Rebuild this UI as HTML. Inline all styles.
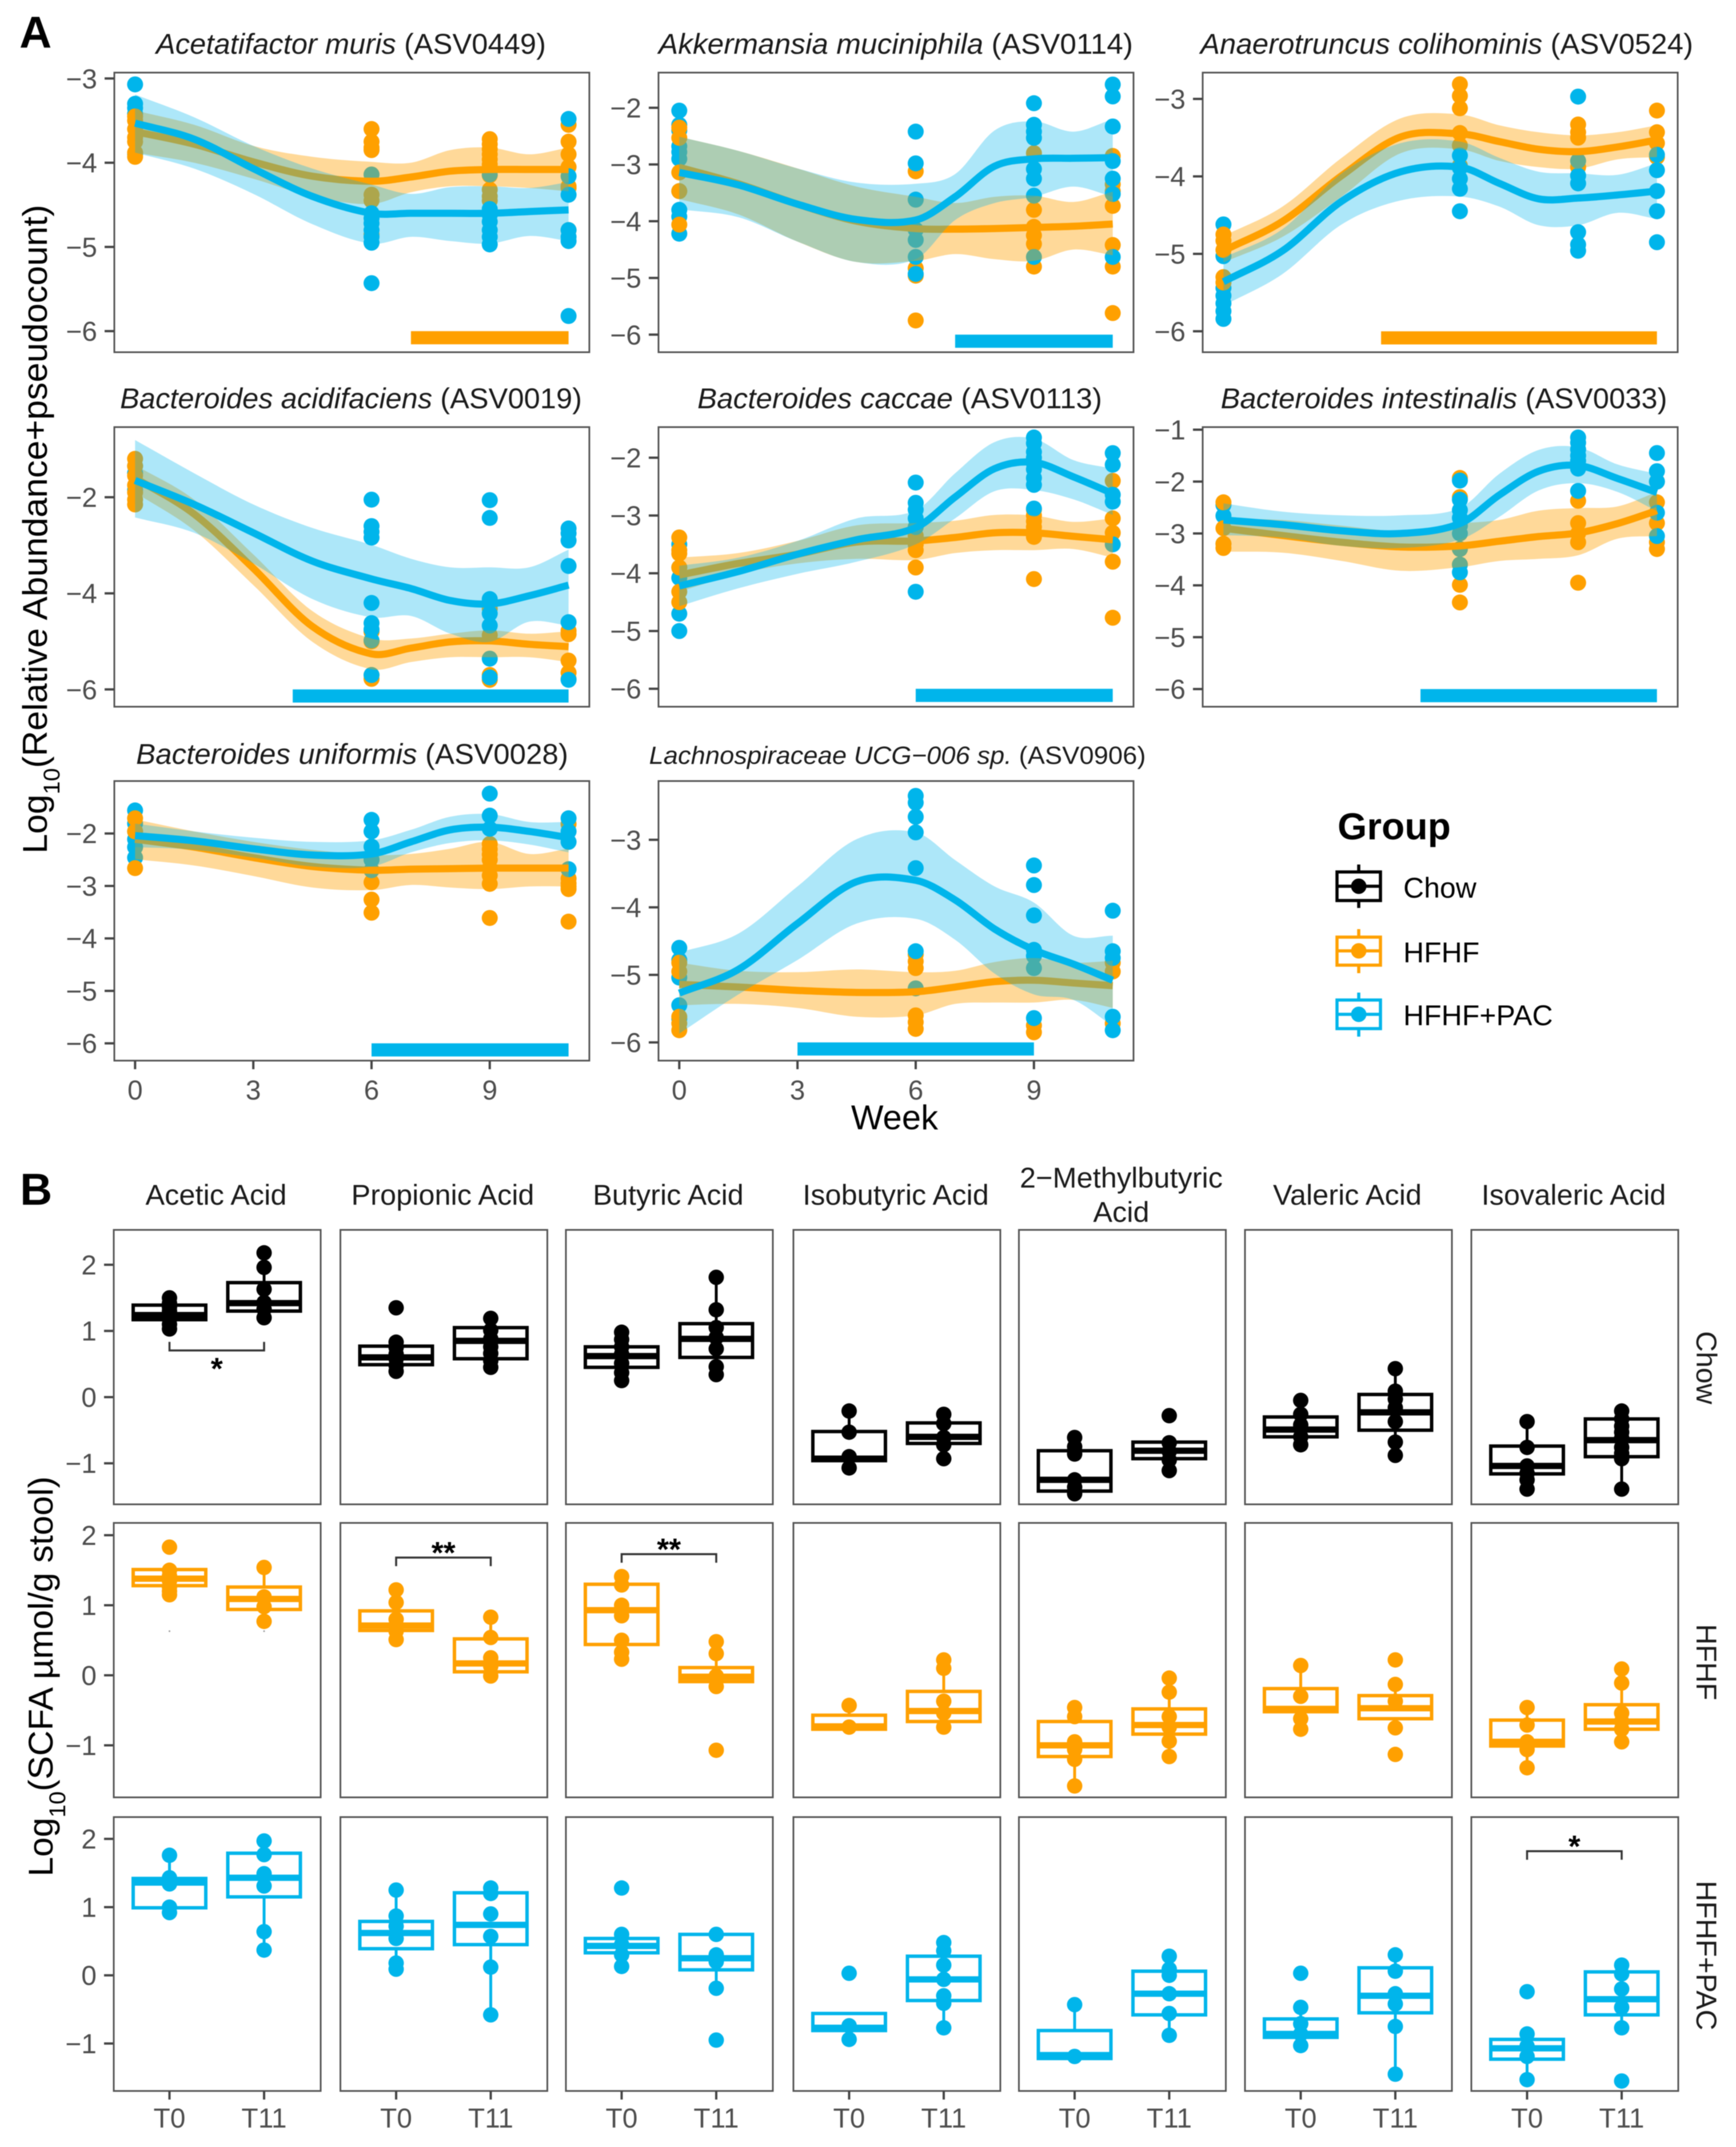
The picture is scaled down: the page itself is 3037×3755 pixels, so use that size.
<!DOCTYPE html>
<html lang="en">
<head>
<meta charset="utf-8">
<title>Taxa abundance smooths and SCFA boxplots</title>
<style>
html,body{margin:0;padding:0;background:#fff;}
svg{display:block;font-family:"Liberation Sans",sans-serif;filter:blur(0.9px);}
</style>
</head>
<body>
<svg id="chart" xmlns="http://www.w3.org/2000/svg" width="3037" height="3755" viewBox="0 0 3037 3755">
<rect x="0" y="0" width="3037" height="3755" fill="#fff"/>
<text x="34" y="83" font-size="78" font-weight="bold" fill="#000">A</text>
<text x="35" y="2107" font-size="78" font-weight="bold" fill="#000">B</text>
<text transform="translate(82,1493) rotate(-90)" font-size="60" fill="#000" textLength="1135" lengthAdjust="spacingAndGlyphs">Log<tspan font-size="40" dy="22">10</tspan><tspan dy="-22">(Relative Abundance+pseudocount)</tspan></text>
<text transform="translate(92,3282) rotate(-90)" font-size="60" fill="#000" textLength="700" lengthAdjust="spacingAndGlyphs">Log<tspan font-size="40" dy="22">10</tspan><tspan dy="-22">(SCFA µmol/g stool)</tspan></text>
<text x="1565" y="1975" font-size="60" fill="#000" text-anchor="middle">Week</text>
<g>
<text x="2340" y="1468" font-size="66" font-weight="bold" fill="#000">Group</text>
<g stroke="#000" stroke-width="5.5" fill="none">
<line x1="2377" x2="2377" y1="1512" y2="1588"/><rect x="2339" y="1525" width="76" height="50" fill="#fff"/><line x1="2339" x2="2415" y1="1550" y2="1550"/><circle cx="2377" cy="1550" r="13.5" fill="#000" stroke="none"/>
<text x="2455" y="1570" font-size="50" fill="#000" stroke="none">Chow</text>
</g>
<g stroke="#FFA000" stroke-width="5.5" fill="none">
<line x1="2377" x2="2377" y1="1625" y2="1702"/><rect x="2339" y="1639" width="76" height="49" fill="#fff"/><line x1="2339" x2="2415" y1="1663" y2="1663"/><circle cx="2377" cy="1663" r="13.5" fill="#FFA000" stroke="none"/>
<text x="2455" y="1683" font-size="50" fill="#000" stroke="none">HFHF</text>
</g>
<g stroke="#00B5EB" stroke-width="5.5" fill="none">
<line x1="2377" x2="2377" y1="1736" y2="1813"/><rect x="2339" y="1749" width="76" height="50" fill="#fff"/><line x1="2339" x2="2415" y1="1774" y2="1774"/><circle cx="2377" cy="1774" r="13.5" fill="#00B5EB" stroke="none"/>
<text x="2455" y="1793" font-size="50" fill="#000" stroke="none">HFHF+PAC</text>
</g>
</g>
</svg>
<script>
/* ---------- Panel A data: weeks ---------- */
const smoothWeeks = [0,1.5,3,4.5,6,7,8,9,10,11];
const pointWeeks = [0,6,9,11];
const weekTicks = [0,3,6,9];

/* Acetatifactor muris */
const murisTitle = ['Acetatifactor muris','(ASV0449)'];
const murisTicks = [-3,-4,-5,-6];
const murisHfhfMean = [-3.63,-3.78,-3.99,-4.16,-4.22,-4.17,-4.1,-4.08,-4.08,-4.08];
const murisHfhfHi = [-3.38,-3.55,-3.8,-3.93,-3.99,-4.0,-3.85,-3.82,-3.9,-3.82];
const murisHfhfLo = [-3.88,-4.0,-4.19,-4.4,-4.49,-4.35,-4.28,-4.28,-4.3,-4.34];
const murisPacMean = [-3.53,-3.72,-4.07,-4.4,-4.6,-4.6,-4.6,-4.6,-4.58,-4.56];
const murisPacHi = [-3.19,-3.46,-3.8,-4.07,-4.26,-4.37,-4.29,-4.28,-4.3,-4.23];
const murisPacLo = [-3.88,-4.07,-4.37,-4.73,-4.96,-4.88,-4.93,-4.96,-4.87,-4.93];
const murisHfhfPoints = [[-3.45,-3.5,-3.6,-3.7,-3.75,-3.88,-3.93],[-3.6,-3.75,-3.82,-3.85,-4.14,-4.38,-4.45,-4.85],[-3.72,-3.78,-3.84,-3.9,-3.96,-4.02,-4.08,-4.15,-4.32,-4.4,-4.45],[-3.55,-3.75,-3.9,-4.05,-4.28,-4.3,-4.8]];
const murisPacPoints = [[-3.07,-3.3,-3.35,-3.42,-3.9],[-4.14,-4.6,-4.66,-4.72,-4.8,-4.88,-4.95,-5.43],[-4.14,-4.55,-4.62,-4.7,-4.8,-4.88,-4.97],[-3.48,-4.16,-4.38,-4.8,-4.88,-4.93,-5.82]];

/* Akkermansia muciniphila */
const akkerTitle = ['Akkermansia muciniphila','(ASV0114)'];
const akkerTicks = [-2,-3,-4,-5,-6];
const akkerHfhfMean = [-3.05,-3.34,-3.7,-4.0,-4.13,-4.14,-4.13,-4.11,-4.09,-4.05];
const akkerHfhfHi = [-2.51,-2.76,-3.07,-3.39,-3.57,-3.68,-3.57,-3.55,-3.66,-3.48];
const akkerHfhfLo = [-3.61,-3.88,-4.36,-4.72,-4.7,-4.58,-4.67,-4.7,-4.5,-4.6];
const akkerPacMean = [-3.14,-3.36,-3.7,-3.97,-3.98,-3.57,-3.03,-2.9,-2.89,-2.88];
const akkerPacHi = [-2.51,-2.76,-3.07,-3.32,-3.34,-3.17,-2.4,-2.24,-2.42,-2.2];
const akkerPacLo = [-3.79,-3.93,-4.36,-4.72,-4.67,-3.98,-3.68,-3.57,-3.39,-3.57];
const akkerHfhfPoints = [[-2.35,-2.53,-3.14,-3.47,-4.06],[-3.12,-3.62,-4.83,-4.96,-5.75],[-2.8,-3.8,-4.1,-4.25,-4.4,-4.8],[-2.85,-3.35,-3.47,-3.73,-4.42,-4.8,-5.62]];
const akkerPacPoints = [[-2.05,-2.3,-2.4,-2.68,-2.78,-2.9,-3.47,-3.8,-3.92,-4.22],[-2.42,-2.98,-3.62,-4.15,-4.33,-4.63,-4.93],[-1.92,-2.3,-2.42,-2.53,-3.08,-3.25,-3.55,-4.63],[-1.59,-1.8,-2.33,-2.94,-3.25,-3.52,-4.63]];

/* Anaerotruncus colihominis */
const anaeroTitle = ['Anaerotruncus colihominis','(ASV0524)'];
const anaeroTicks = [-3,-4,-5,-6];
const anaeroHfhfMean = [-4.96,-4.58,-3.99,-3.49,-3.45,-3.55,-3.65,-3.68,-3.62,-3.53];
const anaeroHfhfHi = [-4.77,-4.39,-3.76,-3.25,-3.2,-3.34,-3.43,-3.47,-3.43,-3.34];
const anaeroHfhfLo = [-5.11,-4.78,-4.26,-3.7,-3.65,-3.8,-3.88,-3.9,-3.78,-3.75];
const anaeroPacMean = [-5.36,-4.96,-4.32,-3.94,-3.88,-4.09,-4.29,-4.28,-4.24,-4.19];
const anaeroPacHi = [-5.05,-4.68,-3.96,-3.57,-3.55,-3.76,-3.94,-3.96,-3.98,-3.83];
const anaeroPacLo = [-5.67,-5.26,-4.62,-4.31,-4.26,-4.39,-4.63,-4.63,-4.47,-4.55];
const anaeroHfhfPoints = [[-4.75,-4.83,-4.95,-5.3,-5.37],[-2.81,-2.96,-3.12,-3.44,-3.6,-3.86],[-3.33,-3.43,-3.5,-3.88],[-3.15,-3.43,-3.57,-3.75]];
const anaeroPacPoints = [[-4.62,-5.03,-5.44,-5.54,-5.64,-5.74,-5.84],[-3.73,-3.89,-4.03,-4.16,-4.45],[-2.97,-3.8,-3.99,-4.09,-4.72,-4.88,-4.96],[-3.72,-3.92,-4.19,-4.45,-4.85]];

/* Bacteroides acidifaciens */
const acidifTitle = ['Bacteroides acidifaciens','(ASV0019)'];
const acidifTicks = [-2,-4,-6];
const acidifHfhfMean = [-1.6,-2.35,-3.48,-4.69,-5.26,-5.14,-5.01,-4.99,-5.06,-5.11];
const acidifHfhfHi = [-1.33,-2.05,-3.19,-4.37,-4.94,-4.94,-4.84,-4.77,-4.84,-4.79];
const acidifHfhfLo = [-1.9,-2.69,-3.83,-5.01,-5.58,-5.43,-5.33,-5.33,-5.33,-5.43];
const acidifPacMean = [-1.65,-2.15,-2.74,-3.33,-3.7,-3.9,-4.15,-4.22,-4.05,-3.83];
const acidifPacHi = [-0.81,-1.5,-2.15,-2.64,-2.99,-3.28,-3.46,-3.46,-3.46,-3.09];
const acidifPacLo = [-2.42,-2.74,-3.38,-4.12,-4.5,-4.47,-4.84,-5.01,-4.59,-4.67];
const acidifHfhfPoints = [[-1.2,-1.35,-1.55,-1.75,-1.9,-2.05,-2.15],[-4.8,-5.0,-5.7,-5.78],[-4.32,-4.87,-5.7,-5.8],[-4.78,-4.85,-5.4,-5.65,-5.78]];
const acidifPacPoints = [[-1.35,-1.5,-1.85],[-2.05,-2.6,-2.72,-2.84,-4.2,-4.62,-4.75,-4.98,-5.7],[-2.06,-2.43,-4.12,-4.42,-4.67,-5.36,-5.75],[-2.65,-2.75,-2.9,-3.43,-4.6,-5.8]];

/* Bacteroides caccae */
const caccaeTitle = ['Bacteroides caccae','(ASV0113)'];
const caccaeTicks = [-2,-3,-4,-5,-6];
const caccaeHfhfMean = [-4.03,-3.83,-3.67,-3.46,-3.44,-3.38,-3.3,-3.3,-3.36,-3.42];
const caccaeHfhfHi = [-3.73,-3.65,-3.44,-3.17,-3.13,-3.09,-2.99,-3.0,-3.11,-3.05];
const caccaeHfhfLo = [-4.32,-4.01,-3.83,-3.75,-3.77,-3.65,-3.6,-3.6,-3.58,-3.73];
const caccaePacMean = [-4.22,-3.97,-3.67,-3.42,-3.21,-2.68,-2.19,-2.08,-2.33,-2.62];
const caccaePacHi = [-3.87,-3.73,-3.44,-3.05,-2.91,-2.27,-1.73,-1.67,-2.04,-2.19];
const caccaePacLo = [-4.57,-4.26,-4.01,-3.8,-3.5,-3.05,-2.58,-2.56,-2.72,-2.99];
const caccaeHfhfPoints = [[-3.38,-3.6,-3.66,-3.9,-4.32,-4.5],[-3.35,-3.5,-3.6,-3.9],[-2.9,-3.0,-3.1,-3.2,-3.3,-3.37,-4.1],[-2.4,-3.05,-3.3,-3.8,-4.77]];
const caccaePacPoints = [[-3.5,-3.9,-4.08,-4.7,-5.0],[-2.43,-2.78,-2.9,-3.05,-3.2,-4.32],[-1.65,-1.75,-1.9,-2.0,-2.1,-2.2,-2.35,-2.47,-2.88],[-1.92,-2.12,-2.64,-2.76,-3.5]];

/* Bacteroides intestinalis */
const intestTitle = ['Bacteroides intestinalis','(ASV0033)'];
const intestTicks = [-1,-2,-3,-4,-5,-6];
const intestHfhfMean = [-2.9,-3.04,-3.17,-3.26,-3.24,-3.15,-3.06,-2.99,-2.81,-2.56];
const intestHfhfHi = [-2.72,-2.74,-2.85,-2.95,-2.81,-2.74,-2.56,-2.51,-2.48,-2.2];
const intestHfhfLo = [-3.35,-3.37,-3.53,-3.72,-3.65,-3.53,-3.49,-3.42,-3.1,-3.05];
const intestPacMean = [-2.74,-2.83,-2.95,-3.0,-2.81,-2.26,-1.8,-1.69,-1.94,-2.21];
const intestPacHi = [-2.42,-2.58,-2.65,-2.65,-2.51,-1.85,-1.39,-1.34,-1.67,-1.85];
const intestPacLo = [-3.03,-3.08,-3.24,-3.28,-3.12,-2.68,-2.17,-2.03,-2.2,-2.57];
const intestHfhfPoints = [[-2.4,-2.9,-3.2,-3.28],[-1.93,-2.3,-3.3,-3.6,-3.99,-4.33],[-2.37,-2.8,-3.0,-3.17,-3.95],[-2.0,-2.4,-2.8,-3.17,-3.3]];
const intestPacPoints = [[-2.45,-2.66,-3.2],[-1.98,-2.35,-2.55,-2.7,-2.85,-3.0,-3.3,-3.6,-3.75],[-1.15,-1.25,-1.38,-1.5,-1.6,-1.75,-2.18],[-1.45,-1.8,-2.0,-2.6,-3.05]];

/* Bacteroides uniformis */
const unifTitle = ['Bacteroides uniformis','(ASV0028)'];
const unifTicks = [-2,-3,-4,-5,-6];
const unifHfhfMean = [-2.11,-2.26,-2.46,-2.63,-2.7,-2.68,-2.67,-2.66,-2.66,-2.66];
const unifHfhfHi = [-1.73,-1.96,-2.16,-2.31,-2.41,-2.39,-2.29,-2.16,-2.39,-2.29];
const unifHfhfLo = [-2.49,-2.61,-2.81,-3.03,-3.08,-2.98,-3.03,-3.06,-3.01,-3.01];
const unifPacMean = [-2.04,-2.14,-2.29,-2.41,-2.39,-2.16,-1.93,-1.88,-1.96,-2.08];
const unifPacHi = [-1.81,-1.96,-2.08,-2.16,-2.13,-1.93,-1.68,-1.63,-1.78,-1.78];
const unifPacLo = [-2.26,-2.31,-2.46,-2.63,-2.63,-2.36,-2.18,-2.13,-2.21,-2.36];
const unifHfhfPoints = [[-1.71,-1.96,-2.66],[-2.25,-2.5,-2.7,-2.93,-3.26,-3.51],[-2.2,-2.3,-2.4,-2.5,-2.66,-2.8,-2.96,-3.61],[-1.82,-2.86,-2.95,-3.01,-3.06,-3.68]];
const unifPacPoints = [[-1.56,-1.81,-1.96,-2.11,-2.26,-2.46],[-1.74,-1.96,-2.25,-2.5,-2.7],[-1.24,-1.66,-1.91],[-1.71,-1.96,-2.16,-2.68]];

/* Lachnospiraceae UCG-006 sp. */
const lachnoTitle = ['Lachnospiraceae UCG\u2212006 sp.','(ASV0906)'];
const lachnoTicks = [-3,-4,-5,-6];
const lachnoHfhfMean = [-5.14,-5.18,-5.23,-5.26,-5.25,-5.18,-5.1,-5.08,-5.12,-5.16];
const lachnoHfhfHi = [-4.82,-4.94,-4.96,-4.92,-4.96,-4.94,-4.81,-4.75,-4.82,-4.79];
const lachnoHfhfLo = [-5.45,-5.43,-5.49,-5.62,-5.6,-5.43,-5.41,-5.41,-5.37,-5.49];
const lachnoPacMean = [-5.27,-4.92,-4.24,-3.62,-3.6,-3.89,-4.32,-4.63,-4.84,-5.08];
const lachnoPacHi = [-4.67,-4.39,-3.69,-2.99,-2.89,-3.3,-3.69,-3.93,-4.42,-4.42];
const lachnoPacLo = [-5.87,-5.29,-4.78,-4.24,-4.17,-4.48,-4.98,-5.29,-5.37,-5.76];
const lachnoHfhfPoints = [[-4.82,-4.95,-5.62,-5.72,-5.82],[-4.7,-4.8,-4.9,-5.6,-5.7,-5.8],[-5.75,-5.85],[-4.82,-4.95,-5.72]];
const lachnoPacPoints = [[-4.6,-4.78,-5.04,-5.45,-5.65],[-2.35,-2.45,-2.66,-2.89,-3.42,-4.65,-5.2],[-3.38,-3.67,-4.12,-4.63,-4.72,-4.9,-5.64],[-4.05,-4.65,-4.75,-5.62,-5.82]];

/* Significance bars in panel A: [first week, last week] */
const murisSigWeeks = [7,11];
const akkerSigWeeks = [7,11];
const anaeroSigWeeks = [4,11];
const acidifSigWeeks = [4,11];
const caccaeSigWeeks = [6,11];
const intestSigWeeks = [5,11];
const unifSigWeeks = [6,11];
const lachnoSigWeeks = [3,9];

/* ---------- Panel B data ---------- */
const acidNames = ['Acetic Acid','Propionic Acid','Butyric Acid','Isobutyric Acid','2\u2212Methylbutyric|Acid','Valeric Acid','Isovaleric Acid'];
const timeLabels = ['T0','T11'];
const groupNames = ['Chow','HFHF','HFHF+PAC'];
const scfaTicks = [2,1,0,-1];
/* each: q1, median, q3, whisker low, whisker high; order acid T0, acid T11 */
const chowBoxes = [[1.17,1.24,1.39,1.03,1.5],[1.3,1.42,1.73,1.2,1.96],[0.49,0.6,0.77,0.39,0.83],[0.58,0.85,1.05,0.45,1.19],[0.45,0.62,0.76,0.25,0.98],[0.6,0.88,1.11,0.34,1.81],[-0.96,-0.93,-0.52,-1.07,-0.21],[-0.7,-0.6,-0.39,-0.93,-0.26],[-1.42,-1.25,-0.81,-1.46,-0.61],[-0.93,-0.81,-0.68,-1.11,-0.68],[-0.6,-0.49,-0.3,-0.72,-0.05],[-0.5,-0.23,0.04,-0.88,0.43],[-1.16,-1.04,-0.74,-1.39,-0.37],[-0.9,-0.65,-0.33,-1.39,-0.21]];
const hfhfBoxes = [[1.28,1.38,1.51,1.15,1.5],[0.94,1.09,1.26,0.77,1.54],[0.64,0.71,0.92,0.51,1.22],[0.05,0.17,0.52,-0.01,0.83],[0.44,0.93,1.3,0.23,1.41],[-0.09,-0.02,0.11,-0.16,0.48],[-0.77,-0.73,-0.57,-0.77,-0.43],[-0.66,-0.51,-0.23,-0.74,0.22],[-1.16,-1.0,-0.66,-1.58,-0.46],[-0.84,-0.71,-0.48,-1.16,-0.04],[-0.52,-0.48,-0.19,-0.77,0.14],[-0.62,-0.47,-0.29,-0.75,-0.13],[-1.01,-0.95,-0.64,-1.32,-0.46],[-0.77,-0.66,-0.42,-0.95,0.09]];
const pacBoxes = [[0.99,1.36,1.42,0.92,1.76],[1.15,1.43,1.79,0.37,1.97],[0.39,0.62,0.79,0.09,1.25],[0.45,0.74,1.21,-0.58,1.28],[0.33,0.43,0.54,0.13,0.6],[0.08,0.25,0.6,-0.19,0.6],[-0.81,-0.77,-0.56,-0.94,-0.56],[-0.37,-0.06,0.28,-0.77,0.48],[-1.22,-1.17,-0.81,-1.22,-0.43],[-0.58,-0.27,0.06,-0.88,0.28],[-0.91,-0.86,-0.64,-1.03,-0.47],[-0.55,-0.3,0.11,-1.45,0.3],[-1.23,-1.07,-0.94,-1.53,-0.86],[-0.58,-0.35,0.05,-0.77,0.15]];
const chowPoints = [[1.5,1.42,1.36,1.3,1.25,1.18,1.1,1.03],[2.18,1.96,1.63,1.43,1.33,1.2],[1.35,0.83,0.75,0.65,0.58,0.48,0.39],[1.19,1.01,0.88,0.76,0.66,0.55,0.45],[0.98,0.87,0.76,0.65,0.51,0.37,0.25],[1.81,1.32,1.05,0.9,0.73,0.46,0.34],[-0.21,-0.53,-0.9,-1.07],[-0.26,-0.4,-0.61,-0.72,-0.93],[-0.61,-0.75,-0.86,-1.25,-1.36,-1.46],[-0.28,-0.69,-0.82,-0.95,-1.11],[-0.05,-0.26,-0.42,-0.6,-0.72],[0.43,0.09,-0.03,-0.16,-0.37,-0.68,-0.88],[-0.37,-0.76,-1.04,-1.15,-1.25,-1.39],[-0.21,-0.33,-0.44,-0.53,-0.62,-0.76,-0.85,-0.93,-1.39]];
const hfhfPoints = [[1.83,1.5,1.42,1.35,1.26,1.2,1.15],[1.54,1.12,0.98,0.77],[1.22,1.04,0.8,0.63,0.51],[0.83,0.54,0.25,0.13,-0.01],[1.41,1.29,1.0,0.85,0.5,0.33,0.23],[0.48,0.31,-0.01,-0.16,-1.07],[-0.43,-0.74],[0.22,0.1,-0.37,-0.54,-0.74],[-0.46,-0.59,-0.95,-1.06,-1.2,-1.58],[-0.04,-0.24,-0.59,-0.74,-0.94,-1.16],[0.14,-0.3,-0.62,-0.77],[0.22,-0.13,-0.37,-0.75,-1.13],[-0.46,-0.71,-0.95,-1.06,-1.32],[0.09,-0.11,-0.54,-0.66,-0.77,-0.95]];
const pacPoints = [[1.76,1.43,1.34,1.0,0.92],[1.97,1.77,1.49,1.31,0.64,0.37],[1.25,0.87,0.72,0.54,0.18,0.09],[1.28,1.2,0.9,0.57,0.12,-0.58],[1.28,0.6,0.45,0.3,0.13],[0.6,0.3,0.2,-0.19,-0.95],[0.03,-0.74,-0.94],[0.48,0.36,0.15,-0.06,-0.3,-0.41,-0.77],[-0.43,-1.19],[0.28,0.09,0.0,-0.27,-0.56,-0.88],[0.03,-0.47,-0.71,-0.86,-1.03],[0.3,0.06,-0.27,-0.42,-0.75,-1.45],[-0.24,-0.86,-1.04,-1.19,-1.53],[0.15,0.02,-0.2,-0.47,-0.77,-1.55]];
/* faint specks below the HFHF acetic boxes */
const hfhfAceticSpecks = [0.63,0.63];

/* ---------- Rendering ---------- */
const SVGNS = 'http://www.w3.org/2000/svg';
const svg = document.getElementById('chart');
const ORANGE = '#FFA000';
const BLUE = '#00B5EB';
const TICK_COLOR = '#444';
const LABEL_COLOR = '#4d4d4d';
const BORDER = '#555';

function mk(tag, attrs, parent) {
  const el = document.createElementNS(SVGNS, tag);
  for (const k in attrs) el.setAttribute(k, attrs[k]);
  (parent || svg).appendChild(el);
  return el;
}
/* cubic Hermite through the points, tangents respect the uneven node spacing */
function curve(pts) {
  function slope(i) {
    const a = pts[Math.max(i - 1, 0)], b = pts[Math.min(i + 1, pts.length - 1)];
    return (b[1] - a[1]) / (b[0] - a[0]);
  }
  let d = '';
  for (let i = 0; i < pts.length - 1; i++) {
    const p1 = pts[i], p2 = pts[i + 1], h = (p2[0] - p1[0]) / 3;
    d += 'C' + (p1[0] + h).toFixed(1) + ' ' + (p1[1] + slope(i) * h).toFixed(1) + ' '
      + (p2[0] - h).toFixed(1) + ' ' + (p2[1] - slope(i + 1) * h).toFixed(1) + ' '
      + p2[0].toFixed(1) + ' ' + p2[1].toFixed(1);
  }
  return d;
}
function linear(d0, d1, r0, r1) {
  return function (v) { return r0 + (v - d0) * (r1 - r0) / (d1 - d0); };
}

const panelLayoutA = [
  {key:'muris', left:200, top:127, yMax:-2.93, yMin:-6.25, titleX:614, titleY:94, titleW:682, fs:50},
  {key:'akker', left:1152, top:127, yMax:-1.38, yMin:-6.31, titleX:1567, titleY:94, titleW:830, fs:50},
  {key:'anaero', left:2104, top:127, yMax:-2.66, yMin:-6.27, titleX:2531, titleY:94, titleW:862, fs:50},
  {key:'acidif', left:200, top:747, yMax:-0.54, yMin:-6.36, titleX:614, titleY:714, titleW:808, fs:50},
  {key:'caccae', left:1152, top:747, yMax:-1.47, yMin:-6.31, titleX:1574, titleY:714, titleW:708, fs:50},
  {key:'intest', left:2104, top:747, yMax:-0.95, yMin:-6.34, titleX:2526, titleY:714, titleW:781, fs:50},
  {key:'unif', left:200, top:1366, yMax:-1.0, yMin:-6.33, titleX:616, titleY:1336, titleW:756, fs:50},
  {key:'lachno', left:1152, top:1366, yMax:-2.13, yMin:-6.27, titleX:1570, titleY:1336, titleW:869, fs:44}
];
const panelDataA = {
  muris:{title:murisTitle,ticks:murisTicks,sig:murisSigWeeks,sigColor:ORANGE,hm:murisHfhfMean,hh:murisHfhfHi,hl:murisHfhfLo,pm:murisPacMean,ph:murisPacHi,pl:murisPacLo,hp:murisHfhfPoints,pp:murisPacPoints},
  akker:{title:akkerTitle,ticks:akkerTicks,sig:akkerSigWeeks,sigColor:BLUE,hm:akkerHfhfMean,hh:akkerHfhfHi,hl:akkerHfhfLo,pm:akkerPacMean,ph:akkerPacHi,pl:akkerPacLo,hp:akkerHfhfPoints,pp:akkerPacPoints},
  anaero:{title:anaeroTitle,ticks:anaeroTicks,sig:anaeroSigWeeks,sigColor:ORANGE,hm:anaeroHfhfMean,hh:anaeroHfhfHi,hl:anaeroHfhfLo,pm:anaeroPacMean,ph:anaeroPacHi,pl:anaeroPacLo,hp:anaeroHfhfPoints,pp:anaeroPacPoints},
  acidif:{title:acidifTitle,ticks:acidifTicks,sig:acidifSigWeeks,sigColor:BLUE,hm:acidifHfhfMean,hh:acidifHfhfHi,hl:acidifHfhfLo,pm:acidifPacMean,ph:acidifPacHi,pl:acidifPacLo,hp:acidifHfhfPoints,pp:acidifPacPoints},
  caccae:{title:caccaeTitle,ticks:caccaeTicks,sig:caccaeSigWeeks,sigColor:BLUE,hm:caccaeHfhfMean,hh:caccaeHfhfHi,hl:caccaeHfhfLo,pm:caccaePacMean,ph:caccaePacHi,pl:caccaePacLo,hp:caccaeHfhfPoints,pp:caccaePacPoints},
  intest:{title:intestTitle,ticks:intestTicks,sig:intestSigWeeks,sigColor:BLUE,hm:intestHfhfMean,hh:intestHfhfHi,hl:intestHfhfLo,pm:intestPacMean,ph:intestPacHi,pl:intestPacLo,hp:intestHfhfPoints,pp:intestPacPoints},
  unif:{title:unifTitle,ticks:unifTicks,sig:unifSigWeeks,sigColor:BLUE,hm:unifHfhfMean,hh:unifHfhfHi,hl:unifHfhfLo,pm:unifPacMean,ph:unifPacHi,pl:unifPacLo,hp:unifHfhfPoints,pp:unifPacPoints},
  lachno:{title:lachnoTitle,ticks:lachnoTicks,sig:lachnoSigWeeks,sigColor:BLUE,hm:lachnoHfhfMean,hh:lachnoHfhfHi,hl:lachnoHfhfLo,pm:lachnoPacMean,ph:lachnoPacHi,pl:lachnoPacLo,hp:lachnoHfhfPoints,pp:lachnoPacPoints}
};
const PW = 831, PH = 489, W_MIN = -0.527, W_MAX = 11.527;

function yTickLabel(parent, x, y, text) {
  const t = mk('text', {x:x, y:y + 17, 'font-size':48, fill:LABEL_COLOR, 'text-anchor':'end'}, parent);
  t.textContent = text;
  
  
}
function fmt(v) { return v < 0 ? '\u2212' + Math.abs(v) : String(v); }

function drawPoints(parent, xs, ys, weeks, lists, color, name) {
  lists.forEach(function (vals, i) {
    vals.forEach(function (v) {
      const c = mk('circle', {cx:xs(weeks[i]), cy:ys(v), r:14, fill:color}, parent);
      
      
    });
  });
}
function drawSmooth(parent, xs, ys, mean, hi, lo, color, opacity, name) {
  const top = smoothWeeks.map(function (w, i) { return [xs(w), ys(hi[i])]; });
  const bot = smoothWeeks.map(function (w, i) { return [xs(w), ys(lo[i])]; }).reverse();
  const rib = mk('path', {d:'M' + top[0].join(' ') + curve(top) + 'L' + bot[0].join(' ') + curve(bot) + 'Z', fill:color, 'fill-opacity':opacity, stroke:'none'}, parent);
  
  
  const mid = smoothWeeks.map(function (w, i) { return [xs(w), ys(mean[i])]; });
  const ln = mk('path', {d:'M' + mid[0].join(' ') + curve(mid), fill:'none', stroke:color, 'stroke-width':12.5}, parent);
  
  
}

panelLayoutA.forEach(function (p, idx) {
  const d = panelDataA[p.key];
  const g = mk('g', {});
  
  
  const xs = linear(W_MIN, W_MAX, p.left, p.left + PW);
  const ys = linear(p.yMin, p.yMax, p.top + PH, p.top);

  const title = mk('text', {x:p.titleX, y:p.titleY, 'font-size':p.fs, fill:'#1a1a1a', 'text-anchor':'middle', textLength:p.titleW, lengthAdjust:'spacingAndGlyphs'}, g);
  
  
  const it = mk('tspan', {'font-style':'italic'}, title);
  it.textContent = d.title[0];
  const rest = mk('tspan', {}, title);
  rest.textContent = ' ' + d.title[1];

  const bg = mk('rect', {x:p.left, y:p.top, width:PW, height:PH, fill:'#fff'}, g);
  
  

  drawPoints(g, xs, ys, pointWeeks.slice(1), d.hp.slice(1), ORANGE, 'hfhf-point');
  drawPoints(g, xs, ys, pointWeeks, d.pp, BLUE, 'hfhf-pac-point');
  drawPoints(g, xs, ys, pointWeeks.slice(0, 1), d.hp.slice(0, 1), ORANGE, 'hfhf-point');

  drawSmooth(g, xs, ys, d.hm, d.hh, d.hl, ORANGE, 0.4, 'hfhf');
  drawSmooth(g, xs, ys, d.pm, d.ph, d.pl, BLUE, 0.32, 'hfhf-pac');

  const bar = mk('rect', {x:xs(d.sig[0]), y:ys(-6), width:xs(d.sig[1]) - xs(d.sig[0]), height:23, fill:d.sigColor}, g);
  
  

  const frame = mk('rect', {x:p.left, y:p.top, width:PW, height:PH, fill:'none', stroke:BORDER, 'stroke-width':3}, g);
  
  

  d.ticks.forEach(function (v) {
    const tk = mk('line', {x1:p.left - 17, x2:p.left, y1:ys(v), y2:ys(v), stroke:TICK_COLOR, 'stroke-width':4}, g);
    
    
    yTickLabel(g, p.left - 30, ys(v), fmt(v));
  });
  if (idx >= 6) {
    weekTicks.forEach(function (w) {
      const tk = mk('line', {x1:xs(w), x2:xs(w), y1:p.top + PH, y2:p.top + PH + 15, stroke:TICK_COLOR, 'stroke-width':4}, g);
      
      
      const t = mk('text', {x:xs(w), y:1923, 'font-size':48, fill:LABEL_COLOR, 'text-anchor':'middle'}, g);
      t.textContent = String(w);
      
      
    });
  }
});

/* Panel B */
const acidLefts = [199,595.5,990,1388,1782.5,2178,2574];
const rowLayoutB = [
  {top:2151, bottom:2631, yMax:2.527, yMin:-1.62, color:'#000', boxes:chowBoxes, points:chowPoints, labelY:2392},
  {top:2663.5, bottom:3143.5, yMax:2.176, yMin:-1.743, color:ORANGE, boxes:hfhfBoxes, points:hfhfPoints, labelY:2907},
  {top:3178, bottom:3657, yMax:2.32, yMin:-1.696, color:BLUE, boxes:pacBoxes, points:pacPoints, labelY:3420}
];
const BW = 362;
const timeOffsets = [97.5, 263];

rowLayoutB.forEach(function (row, r) {
  const ys = linear(row.yMin, row.yMax, row.bottom, row.top);
  const rowG = mk('g', {});
  
  

  const lab = mk('text', {transform:'translate(2968,' + row.labelY + ') rotate(90)', 'font-size':50, fill:'#1a1a1a', 'text-anchor':'middle'}, rowG);
  lab.textContent = groupNames[r];
  
  

  scfaTicks.forEach(function (v) {
    const tk = mk('line', {x1:182, x2:199, y1:ys(v), y2:ys(v), stroke:TICK_COLOR, 'stroke-width':4}, rowG);
    
    
    yTickLabel(rowG, 169, ys(v), fmt(v));
  });

  acidLefts.forEach(function (left, a) {
    const g = mk('g', {}, rowG);
    
    
    const frame = mk('rect', {x:left, y:row.top, width:BW, height:row.bottom - row.top, fill:'#fff', stroke:BORDER, 'stroke-width':3}, g);
    
    
    timeOffsets.forEach(function (off, t) {
      const cx = left + off;
      const b = row.boxes[a * 2 + t];
      const whisk = mk('line', {x1:cx, x2:cx, y1:ys(b[3]), y2:ys(b[4]), stroke:row.color, 'stroke-width':5}, g);
      
      
      const box = mk('rect', {x:cx - 63.5, y:ys(b[2]), width:127, height:ys(b[0]) - ys(b[2]), fill:'#fff', stroke:row.color, 'stroke-width':6}, g);
      
      
      const med = mk('line', {x1:cx - 63.5, x2:cx + 63.5, y1:ys(b[1]), y2:ys(b[1]), stroke:row.color, 'stroke-width':11}, g);
      
      
      row.points[a * 2 + t].forEach(function (v) {
        const c = mk('circle', {cx:cx, cy:ys(v), r:13.5, fill:row.color}, g);
        
        
      });
      if (r === 1 && a === 0) {
        const sp = mk('circle', {cx:cx, cy:ys(hfhfAceticSpecks[t]), r:1.5, fill:'#999'}, g);
        
        
      }
      if (r === 2) {
        const tk = mk('line', {x1:cx, x2:cx, y1:row.bottom, y2:row.bottom + 15, stroke:TICK_COLOR, 'stroke-width':4}, g);
        
        
        const tl = mk('text', {x:cx, y:3721, 'font-size':48, fill:LABEL_COLOR, 'text-anchor':'middle'}, g);
        tl.textContent = timeLabels[t];
        
        
      }
    });
    if (r === 0) {
      const parts = acidNames[a].split('|');
      parts.forEach(function (txt, i) {
        const s = mk('text', {x:left + BW / 2 - 2, y:parts.length > 1 ? 2077 + i * 60 : 2107, 'font-size':50.5, fill:'#1a1a1a', 'text-anchor':'middle'}, svg);
        s.textContent = txt;
        
        
      });
    }
  });
});

/* significance brackets: row, acid index, stars, bracket value, tick direction */
const bracketRows = [0,1,1,2];
const bracketAcids = [0,1,2,6];
const bracketStars = ['*','**','**','*'];
const bracketValues = [0.705,1.681,1.73,1.82];
const bracketDirs = [-1,1,1,1];
bracketRows.forEach(function (r, i) {
  const row = rowLayoutB[r];
  const ys = linear(row.yMin, row.yMax, row.bottom, row.top);
  const left = acidLefts[bracketAcids[i]];
  const x0 = left + timeOffsets[0], x1 = left + timeOffsets[1];
  const y = ys(bracketValues[i]);
  const dy = 15 * bracketDirs[i];
  const br = mk('path', {d:'M' + x0 + ' ' + (y + dy) + 'V' + y + 'H' + x1 + 'V' + (y + dy), fill:'none', stroke:'#333', 'stroke-width':3.5});
  
  
  const starCenter = bracketDirs[i] < 0 ? y + 20 : y - 20;
  const st = mk('text', {x:(x0 + x1) / 2, y:starCenter + 30, 'font-size':54, 'font-weight':'bold', fill:'#000', 'text-anchor':'middle'});
  st.textContent = bracketStars[i];
  
  
});
</script>
</body>
</html>
